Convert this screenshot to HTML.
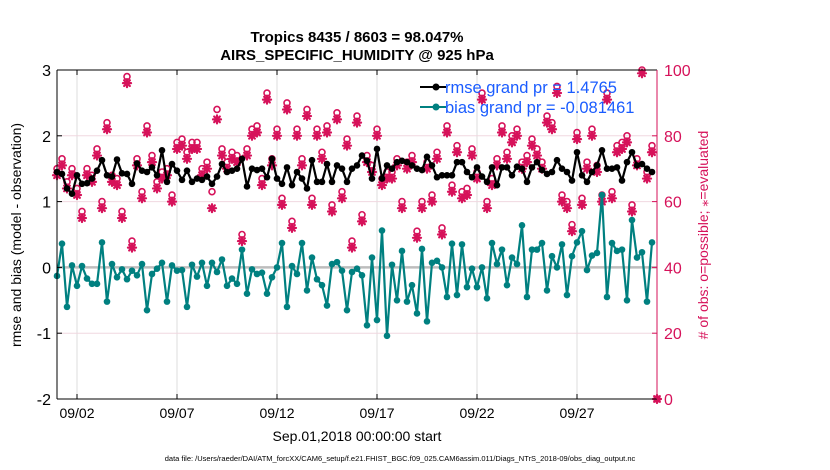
<!DOCTYPE html>
<html><head><meta charset="utf-8"><style>
body{margin:0;background:#fff;}
svg{display:block;font-family:"Liberation Sans",Arial,sans-serif;}
</style></head><body>
<svg id="chart" width="830" height="470" viewBox="0 0 830 470">
<rect width="830" height="470" fill="#fff"/>
<g id="grid"></g>
<g id="marks"></g>
<g id="axes"></g>
<text x="357" y="42" text-anchor="middle" font-size="15" font-weight="bold">Tropics 8435 / 8603 = 98.047%</text>
<text x="357" y="60" text-anchor="middle" font-size="15" font-weight="bold">AIRS_SPECIFIC_HUMIDITY @ 925 hPa</text>
<text transform="translate(21,235) rotate(-90)" text-anchor="middle" font-size="14">rmse and bias (model - observation)</text>
<text transform="translate(708,235) rotate(-90)" text-anchor="middle" font-size="14" fill="#d6125a"># of obs: o=possible; ⁎=evaluated</text>
<text x="357" y="441" text-anchor="middle" font-size="14">Sep.01,2018 00:00:00 start</text>
<text x="400" y="461" text-anchor="middle" font-size="7.5">data file: /Users/raeder/DAI/ATM_forcXX/CAM6_setup/f.e21.FHIST_BGC.f09_025.CAM6assim.011/Diags_NTrS_2018-09/obs_diag_output.nc</text>
<g>
<line x1="420" y1="87" x2="446" y2="87" stroke="#000" stroke-width="2"/>
<circle cx="436" cy="87" r="3.5" fill="#000"/>
<text x="445" y="93" font-size="16.5" fill="#1a5cff">rmse grand pr = 1.4765</text>
<line x1="420" y1="107" x2="446" y2="107" stroke="#008080" stroke-width="2"/>
<circle cx="436" cy="107" r="3.5" fill="#008080"/>
<text x="445" y="113" font-size="16.5" fill="#1a5cff">bias grand pr = -0.081461</text>
</g>
</svg>
<script>
const rmse=[1.45,1.42,1.2,1.12,1.4,1.27,1.28,1.35,1.47,1.63,1.4,1.38,1.64,1.43,1.42,1.27,1.58,1.47,1.45,1.52,1.4,1.78,1.3,1.57,1.47,1.33,1.47,1.3,1.35,1.33,1.38,1.27,1.38,1.57,1.45,1.47,1.5,1.65,1.23,1.5,1.48,
1.5,1.37,1.65,1.35,1.27,1.52,1.25,1.45,1.35,1.2,1.63,1.3,1.3,1.57,1.3,1.55,1.5,1.3,1.5,1.55,1.7,1.62,1.35,1.8,1.35,1.55,1.5,1.6,1.62,1.6,1.55,1.5,1.48,1.68,1.55,1.37,1.4,1.4,1.4,1.6,1.6,1.45,
1.37,1.52,1.38,1.3,1.52,1.25,1.52,1.52,1.4,1.53,1.5,1.3,1.52,1.6,1.48,1.42,1.45,1.63,1.5,1.45,1.32,1.75,1.4,1.3,1.45,1.55,1.78,1.5,1.5,1.52,1.32,1.6,1.75,1.55,1.57,1.5,1.45];
const bias=[-0.13,0.36,-0.6,0.03,-0.28,0.02,-0.17,-0.25,-0.25,0.38,-0.52,0.05,-0.15,-0.03,-0.18,-0.05,-0.12,0.05,-0.65,-0.1,-0.02,0.07,-0.52,0.03,-0.05,-0.04,-0.6,0.04,-0.14,0.07,-0.28,0.07,-0.07,0.12,-0.28,-0.17,-0.25,0.27,-0.4,-0.03,-0.1,
-0.08,-0.4,-0.15,0.0,0.37,-0.6,0.02,-0.1,0.37,-0.35,0.15,-0.18,-0.27,-0.58,0.05,0.08,-0.05,-0.65,-0.07,-0.02,-0.12,-0.88,0.15,-0.8,0.56,-1.04,0.04,-0.5,0.25,-0.52,-0.27,-0.7,0.28,-0.82,0.07,0.1,0.0,-0.45,0.36,-0.42,0.35,-0.3,
-0.02,-0.3,0.0,-0.47,0.37,0.05,0.27,-0.27,0.15,0.05,0.64,-0.45,0.27,0.27,0.37,-0.35,0.17,0.0,0.35,-0.42,0.17,0.38,0.55,-0.04,0.18,0.22,1.1,-0.45,0.37,0.25,0.27,-0.5,0.72,0.15,0.23,-0.52,0.38];
const nEval=[68,71,64,68,62,55,68,66,74,58,82,66,65,55,96,46,71,61,81,72,64,67,68,60,76,77,73,76,76,68,70,58,85,74,70,73,72,48,74,80,81,
65,91,71,80,59,88,52,80,71,86,59,80,73,81,57,85,61,77,46,84,54,72,69,80,65,67,67,71,58,70,72,49,58,70,60,73,50,81,63,75,61,62,
74,67,91,58,65,71,81,73,78,80,70,72,77,74,70,84,82,93,60,58,51,79,59,70,80,69,60,91,61,75,76,78,57,71,99,67,75,0];
const nPoss=[70,73,66,70,64,57,70,68,76,60,84,68,67,57,98,48,73,63,83,74,66,69,70,62,78,79,75,78,78,70,72,63,88,76,72,75,74,50,76,82,83,
67,93,73,82,61,90,54,82,73,88,61,82,75,83,59,87,63,79,48,86,56,74,71,82,67,69,69,73,60,72,74,51,60,72,62,75,52,83,65,77,63,64,
76,69,93,60,67,73,83,75,80,82,72,74,79,76,72,86,84,95,62,60,53,81,61,72,82,71,62,93,63,77,78,80,59,73,100,69,77,0];
const xTickDays=[1,6,11,16,21,26];
const xTickLabels=["09/02","09/07","09/12","09/17","09/22","09/27"];
const yTicks=[-2,-1,0,1,2,3];
const rTicks=[0,20,40,60,80,100];
const stepDays=0.25;

const X0=57,X1=657,Y0=399,Y1=70,D0=0,D1=30;
const xs=d=>X0+(d-D0)/(D1-D0)*(X1-X0);
const yL=v=>Y0-(v+2)/5*(Y0-Y1);
const yR=v=>Y0-v/100*(Y0-Y1);
const NS="http://www.w3.org/2000/svg";
function mk(tag,attrs,parent){const e=document.createElementNS(NS,tag);for(const k in attrs)e.setAttribute(k,attrs[k]);parent.appendChild(e);return e;}
const grid=document.getElementById('grid'),marks=document.getElementById('marks'),axes=document.getElementById('axes');

xTickDays.forEach((d,i)=>{
  const gl=mk('line',{x1:xs(d),x2:xs(d),y1:Y1,y2:Y0,stroke:'#dcdcdc','stroke-width':1},grid);
  
  
  const t=mk('text',{x:xs(d),y:418,'text-anchor':'middle','font-size':14},axes);
  t.textContent=xTickLabels[i];
  
  
  mk('line',{x1:xs(d),x2:xs(d),y1:Y0,y2:Y0-5,stroke:'#000'},axes);
  mk('line',{x1:xs(d),x2:xs(d),y1:Y1,y2:Y1+5,stroke:'#000'},axes);
});
yTicks.forEach(v=>{
  if(v>-2&&v<3&&v!==0){
    const gl=mk('line',{x1:X0,x2:X1,y1:yL(v),y2:yL(v),stroke:'#f0d8e0','stroke-width':1},grid);
    
    
  }
  const t=mk('text',{x:51,y:yL(v)+6,'text-anchor':'end','font-size':16},axes);
  t.textContent=v;
  
  
  mk('line',{x1:X0,x2:X0+5,y1:yL(v),y2:yL(v),stroke:'#000'},axes);
});
rTicks.forEach(v=>{
  const t=mk('text',{x:664,y:yR(v)+6,'font-size':16,fill:'#d6125a'},axes);
  t.textContent=v;
  
  
  mk('line',{x1:X1,x2:X1-5,y1:yR(v),y2:yR(v),stroke:'#d6125a'},axes);
});
const zl=mk('line',{x1:X0,x2:X1,y1:yL(0),y2:yL(0),stroke:'#bdbdbd','stroke-width':2.5},grid);



const red='#d6125a';
nPoss.forEach((v,i)=>{
  const c=mk('circle',{cx:xs(i*stepDays),cy:yR(v),r:3,fill:'none',stroke:red,'stroke-width':1.6},marks);
  
  
});
nEval.forEach((v,i)=>{
  const cx=xs(i*stepDays),cy=yR(v);
  const g=mk('g',{stroke:red,'stroke-width':2.2,'stroke-linecap':'round'},marks);
  
  
  for(let k=0;k<4;k++){const a=k*Math.PI/4,dx=4*Math.cos(a),dy=4*Math.sin(a);
    mk('line',{x1:cx-dx,y1:cy-dy,x2:cx+dx,y2:cy+dy},g);}
});
function series(vals,color,name){
  const pts=vals.map((v,i)=>xs(i*stepDays)+','+yL(v)).join(' ');
  const pl=mk('polyline',{points:pts,fill:'none',stroke:color,'stroke-width':2.2,'stroke-linejoin':'round'},marks);
  
  
  vals.forEach((v,i)=>{
    const c=mk('circle',{cx:xs(i*stepDays),cy:yL(v),r:3.3,fill:color},marks);
    
    
  });
}
series(bias,'#008080','bias');
series(rmse,'#000000','rmse');

mk('line',{x1:X0,x2:X0,y1:Y1,y2:Y0,stroke:'#000','stroke-width':1},axes);
mk('line',{x1:X0,x2:X1,y1:Y1,y2:Y1,stroke:'#000','stroke-width':1},axes);
mk('line',{x1:X0,x2:X1,y1:Y0,y2:Y0,stroke:'#000','stroke-width':1},axes);
mk('line',{x1:X1,x2:X1,y1:Y1,y2:Y0,stroke:red,'stroke-width':1},axes);
</script>
</body></html>
